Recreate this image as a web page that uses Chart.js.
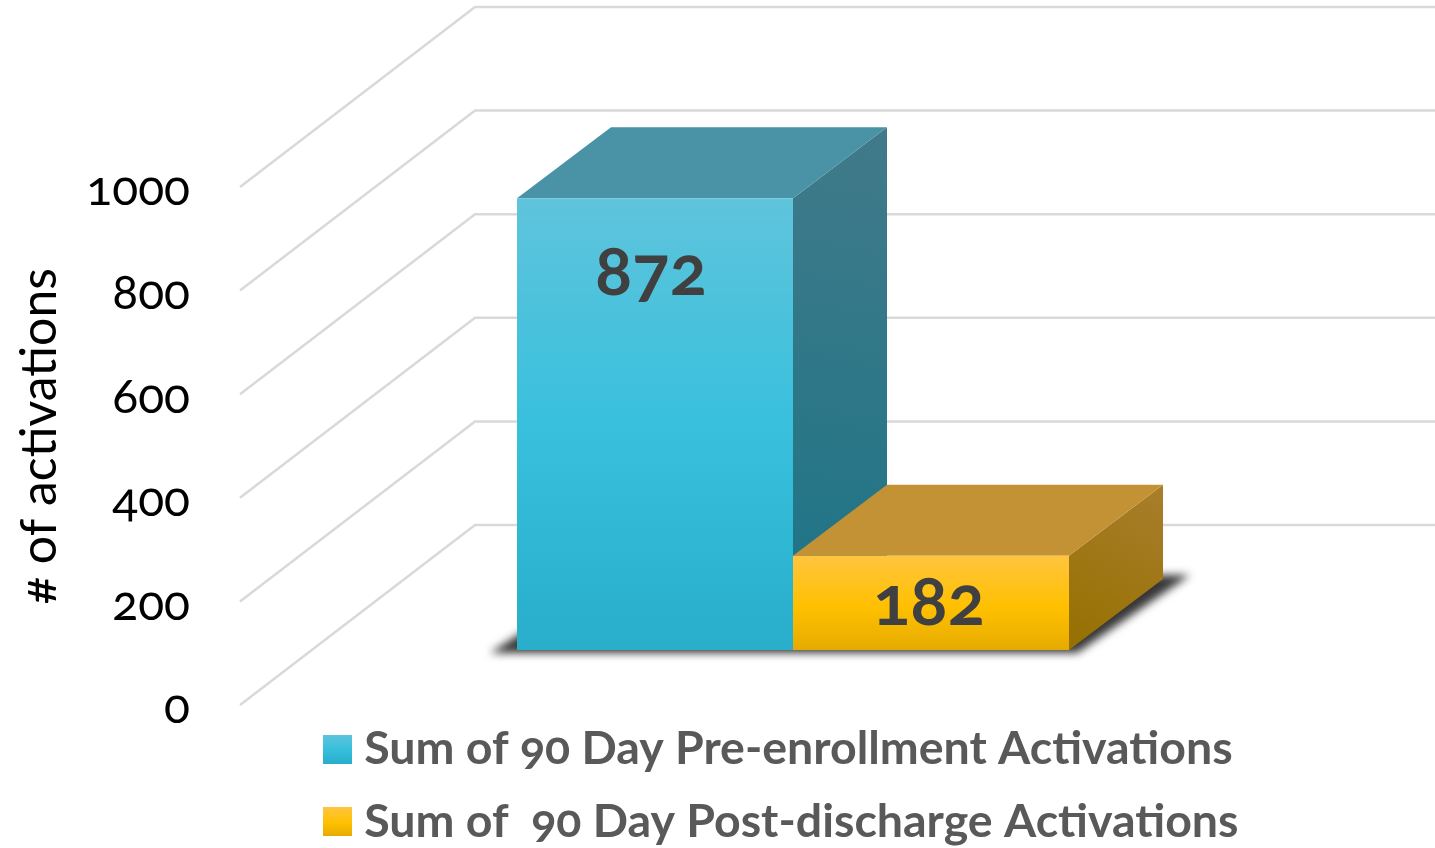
<!DOCTYPE html>
<html>
<head>
<meta charset="utf-8">
<style>
html,body{margin:0;padding:0;background:#fff;}
canvas{display:block;font-feature-settings:"onum";font-variant-numeric:oldstyle-nums;}
</style>
<script src="https://cdn.jsdelivr.net/npm/chart.js@4"></script>
</head>
<body>
<canvas id="c" width="1435" height="848"></canvas>
<script>
const categories = ['Activations'];
const seriesNames = ['Sum of 90 Day Pre-enrollment Activations', 'Sum of  90 Day Post-discharge Activations'];
const preEnrollment = [872];
const postDischarge = [182];
const yTicks = [0, 200, 400, 600, 800, 1000];
const yTitle = '# of activations';
const FONT = 'Lato';

const frontStops = [
  [[0, '#5fc4dc'], [0.5, '#38c0dd'], [1, '#28aecb']],
  [[0, '#ffc53f'], [0.55, '#ffc000'], [1, '#e6ab00']]
];
const topColors = ['#4a93a6', '#c29235'];
const sideStops = [
  [[0, '#417a8a'], [1, '#1a7486']],
  [[0, '#a87e2c'], [1, '#967000']]
];

const WALL = {dx: 235, dy: -180};
const FRONT = {dx: 73, dy: -55};
const DEPTH = {dx: 94, dy: -71};
const labelLift = [{x: -4, y: 74}, {x: -2, y: 47}];

function grad(ctx, x0, y0, x1, y1, stops) {
  const g = ctx.createLinearGradient(x0, y0, x1, y1);
  stops.forEach(s => g.addColorStop(s[0], s[1]));
  return g;
}
function poly(ctx, pts, fill) {
  ctx.beginPath();
  pts.forEach((p, i) => i ? ctx.lineTo(p[0], p[1]) : ctx.moveTo(p[0], p[1]));
  ctx.closePath();
  ctx.fillStyle = fill;
  ctx.fill();
}
function swatch(stops) {
  const cv = document.createElement('canvas');
  cv.width = 29; cv.height = 29;
  const c = cv.getContext('2d');
  c.fillStyle = grad(c, 0, 0, 0, 29, stops);
  c.fillRect(0, 0, 29, 29);
  return cv;
}
function frontFill(i) {
  return function (context) {
    const chart = context.chart;
    const y = chart.scales.y;
    if (!y || y.bottom === undefined) return frontStops[i][1][1];
    const value = i ? postDischarge[0] : preEnrollment[0];
    return grad(chart.ctx, 0, y.getPixelForValue(value), 0, y.getPixelForValue(0), frontStops[i]);
  };
}

const scene3d = {
  id: 'scene3d',
  afterLayout(chart) {
    const lg = chart.legend;
    lg.left = 308;
    lg.right = chart.width;
    lg.top = 700;
    lg.bottom = chart.height;
    const y = chart.scales.y;
    if (!y._titlePatched) {
      const orig = y.drawTitle;
      y.drawTitle = function () {
        chart.ctx.save();
        chart.ctx.translate(0, -10);
        orig.call(y);
        chart.ctx.restore();
      };
      y._titlePatched = true;
    }
  },
  beforeDatasetsDraw(chart) {
    const ctx = chart.ctx;
    const y = chart.scales.y;
    const a = chart.chartArea;
    // walls
    ctx.save();
    ctx.strokeStyle = '#d9d9d9';
    ctx.lineWidth = 2.5;
    yTicks.forEach(t => {
      const py = y.getPixelForValue(t);
      ctx.beginPath();
      ctx.moveTo(a.left, py);
      ctx.lineTo(a.left + WALL.dx, py + WALL.dy);
      ctx.lineTo(a.right + WALL.dx, py + WALL.dy);
      ctx.stroke();
    });
    ctx.restore();

    const bars = chart.data.datasets.map((d, i) => chart.getDatasetMeta(i).data[0]);
    const L = Math.min(...bars.map(b => b.x - b.width / 2)) + FRONT.dx;
    const R = Math.max(...bars.map(b => b.x + b.width / 2)) + FRONT.dx;
    const B = y.getPixelForValue(0) + FRONT.dy;

    // floor shadow
    ctx.save();
    ctx.filter = 'blur(4px)';
    poly(ctx, [[L - 27, B + 3], [R + 8, B + 3], [R + DEPTH.dx + 27, B + DEPTH.dy - 4], [L + DEPTH.dx, B + DEPTH.dy - 4]], 'rgb(55,55,55)');
    ctx.restore();

    // top and side faces, back to front
    bars.forEach((b, i) => {
      const l = b.x - b.width / 2 + FRONT.dx;
      const r = b.x + b.width / 2 + FRONT.dx;
      const t = b.y + FRONT.dy;
      const base = b.base + FRONT.dy;
      poly(ctx, [[r, t], [r + DEPTH.dx, t + DEPTH.dy], [r + DEPTH.dx, base + DEPTH.dy], [r, base]],
        grad(ctx, r + DEPTH.dx, t + DEPTH.dy, r, base, sideStops[i]));
      poly(ctx, [[l, t], [l + DEPTH.dx, t + DEPTH.dy], [r + DEPTH.dx, t + DEPTH.dy], [r, t]], topColors[i]);
    });

    ctx.save();
    ctx.translate(FRONT.dx, FRONT.dy);
  },
  afterDatasetsDraw(chart) {
    const ctx = chart.ctx;
    ctx.restore();
    ctx.save();
    ctx.fillStyle = '#404040';
    ctx.textAlign = 'center';
    ctx.textBaseline = 'middle';
    ctx.font = '700 69px ' + FONT;
    chart.data.datasets.forEach((d, i) => {
      const b = chart.getDatasetMeta(i).data[0];
      ctx.fillText(String(d.data[0]), b.x + FRONT.dx + labelLift[i].x, b.y + FRONT.dy + labelLift[i].y);
    });
    ctx.restore();
  }
};

new Chart(document.getElementById('c'), {
  type: 'bar',
  plugins: [scene3d],
  data: {
    labels: categories,
    datasets: [
      {label: seriesNames[0], data: preEnrollment, backgroundColor: frontFill(0), borderWidth: 0},
      {label: seriesNames[1], data: postDischarge, backgroundColor: frontFill(1), borderWidth: 0}
    ]
  },
  options: {
    responsive: false,
    animation: false,
    devicePixelRatio: 1,
    layout: {padding: {left: 0, right: 235, top: 187, bottom: -12}},
    datasets: {bar: {barPercentage: 1, categoryPercentage: 0.575}},
    scales: {
      x: {display: false},
      y: {
        min: 0, max: 1000,
        afterFit(s) { s.width = 240; },
        afterBuildTicks(s) { s.ticks = yTicks.map(v => ({value: v})); },
        grid: {display: false, drawTicks: false},
        border: {display: false},
        ticks: {padding: 50, labelOffset: 3, color: '#000', font: {family: FONT, size: 48, weight: '400'},
                callback: v => String(v)},
        title: {display: true, text: yTitle, color: '#000', padding: {top: 10, bottom: 0},
                font: {family: FONT, size: 50, weight: '400'}}
      }
    },
    plugins: {
      tooltip: {enabled: false},
      legend: {
        position: 'bottom',
        align: 'start',
        labels: {
          usePointStyle: true,
          pointStyleWidth: 7,
          padding: 26,
          font: {family: FONT, size: 46.5, weight: '700'},
          generateLabels() {
            return seriesNames.map((n, i) => ({
              text: n, fontColor: '#595959', hidden: false, datasetIndex: i,
              lineWidth: 0, pointStyle: swatch(frontStops[i])
            }));
          }
        }
      }
    }
  }
});
</script>
</body>
</html>
